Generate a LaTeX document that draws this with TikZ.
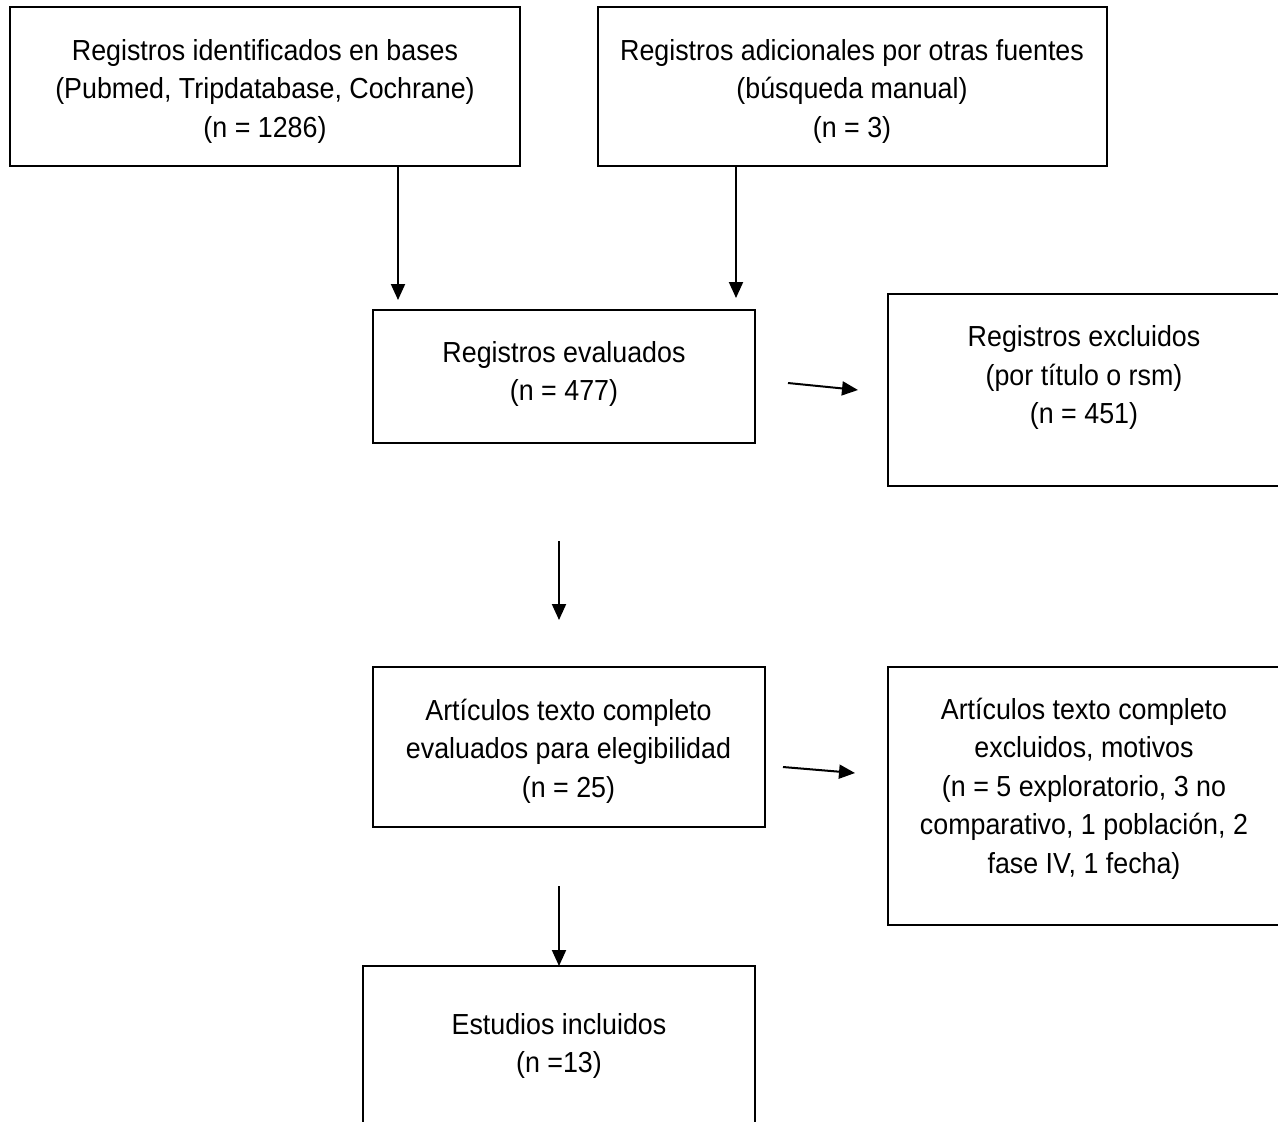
\documentclass[tikz,border=0pt]{standalone}
\usepackage{fontspec}
\setmainfont{Liberation Sans}[FakeStretch=0.925]
\usetikzlibrary{arrows.meta}
\tikzset{
  caja/.style 2 args={draw, line width=1pt, inner sep=0pt, outer sep=0pt,
    minimum width=#1*0.5pt, minimum height=#2*0.5pt},
  texto/.style={align=center, inner sep=0pt,
    font=\fontsize{14.5}{19.25}\selectfont},
  flecha/.style={line width=1pt, -{Triangle[length=8pt,width=7pt]}}
}
\begin{document}
\begin{tikzpicture}[x=0.5pt,y=-0.5pt]
  \useasboundingbox (0,0) rectangle (1278,1121);
  % cajas
  \node[caja={510}{159}] (regid) at (265,86.5) {};
  \node[caja={509}{159}] (regadd) at (852.5,86.5) {};
  \node[caja={382}{133}] (regeval) at (564,376.5) {};
  \node[caja={394}{192}] (regexcl) at (1085,390) {};
  \node[caja={392}{160}] (textcomp) at (569,747) {};
  \node[caja={394}{258}] (textexcl) at (1085,796) {};
  \node[caja={392}{164}] (incluidos) at (559,1048) {};
  % textos
  \node[texto] (t1) at (265,91) {Registros identificados en bases\\(Pubmed, Tripdatabase, Cochrane)\\(n = 1286)};
  \node[texto] (t2) at (852,91) {Registros adicionales por otras fuentes\\(búsqueda manual)\\(n = 3)};
  \node[texto] (t3) at (564,374) {Registros evaluados\\(n = 477)};
  \node[texto] (t4) at (1084,377.5) {Registros excluidos\\(por título o rsm)\\(n = 451)};
  \node[texto] (t5) at (568.5,751) {Artículos texto completo\\evaluados para elegibilidad\\(n = 25)};
  \node[texto] (t6) at (1084,788.5) {Artículos texto completo\\excluidos, motivos\\(n = 5 exploratorio, 3 no\\comparativo, 1 población, 2\\fase IV, 1 fecha)};
  \node[texto] (t7) at (559,1046) {Estudios incluidos\\(n =13)};
  % flechas
  \coordinate (p1) at (398,300);
  \coordinate (p2) at (736,298);
  \coordinate (q3) at (788,383);
  \coordinate (p3) at (858,390);
  \coordinate (q4) at (559,541);
  \coordinate (p4) at (559,620);
  \coordinate (q5) at (783,767);
  \coordinate (p5) at (855,773);
  \coordinate (q6) at (559,886);
  \draw[flecha] (regid.south -| p1) -- (p1);
  \draw[flecha] (regadd.south -| p2) -- (p2);
  \draw[flecha] (q3) -- (p3);
  \draw[flecha] (q4) -- (p4);
  \draw[flecha] (q5) -- (p5);
  \draw[flecha] (q6) -- (incluidos.north);
\end{tikzpicture}
\end{document}
